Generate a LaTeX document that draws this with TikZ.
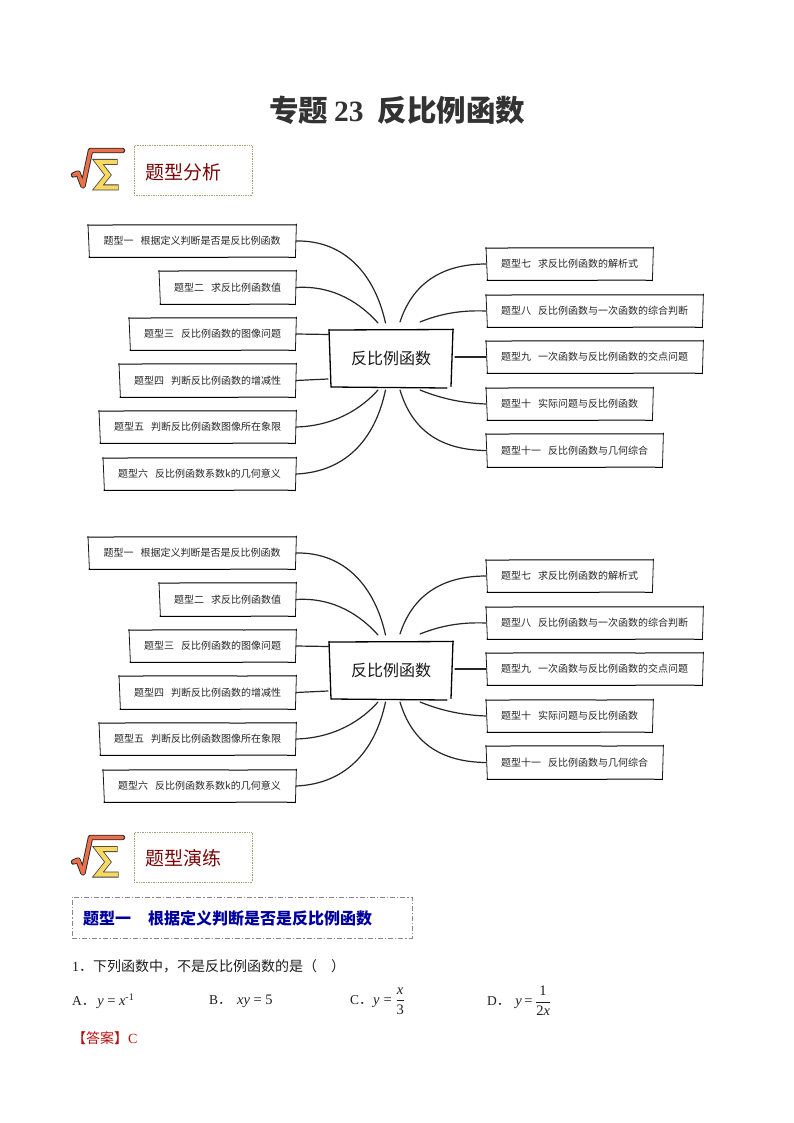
\documentclass[tikz,border=0pt]{standalone}
\usepackage{fontspec}
\setmainfont{Noto Sans CJK SC}
\newfontfamily\latinserif{Liberation Serif}
\tikzset{
  x=1pt,y=-1pt,
  boxlabel/.style={inner sep=0pt,outer sep=0pt,text=black!85,font=\fontsize{10}{12}\selectfont},
  hubtext/.style={boxlabel,text=black!90,font=\fontsize{16}{18}\selectfont},
  linkline/.style={line width=1.2pt,black!85,line cap=round},
  thinedge/.style={line width=0.8pt,black!90,line cap=round},
  thickedge/.style={line width=1pt,black,line cap=round},
  hubedge/.style={line width=1.3pt,black,line cap=round},
  headframe/.style={draw=tanframe,densely dotted,line width=0.7pt,minimum width=118pt,minimum height=49.5pt,inner sep=0pt},
  headtext/.style={text=headred,inner sep=0pt,font=\fontsize{19}{21}\selectfont},
  bodytext/.style={inner sep=0pt,text=black!88,anchor=west,font=\fontsize{14}{16}\selectfont},
  opttext/.style={inner sep=0pt,text=black!88,anchor=west,font=\fontsize{13.5}{16}\selectfont},
}
\definecolor{tanframe}{HTML}{A89F78}
\definecolor{headred}{HTML}{7A0606}
\definecolor{rootorange}{HTML}{E8704A}
\definecolor{sigmayellow}{HTML}{F8D860}
\definecolor{titlegray}{HTML}{333333}
\definecolor{sectionblue}{HTML}{0000A0}
\definecolor{sectionframe}{HTML}{8F8585}
\definecolor{answerred}{HTML}{B81010}
\newcommand{\mvar}[1]{\hbox{\fontsize{14.5}{16}\selectfont\latinserif\itshape #1}}
\newcommand{\mnum}[1]{\hbox{\fontsize{14.5}{16}\selectfont\latinserif #1}}
\newcommand{\optmark}[1]{{\latinserif #1}．}
% name, left, top, right, bottom, label
\newcommand{\sketchbox}[6]{%
  \node[boxlabel,minimum width={#4pt-#2pt},minimum height={#5pt-#3pt}] (#1) at ({(#2+#4)/2},{(#3+#5)/2}) {#6};
  \draw[thickedge] ([shift={(-0.5,0.2)}]#1.north west) .. controls +(40,-0.6) and +(-50,0.5) .. ([shift={(0.5,-0.2)}]#1.north east);
  \draw[thinedge] ([shift={(0,-0.8)}]#1.north west) -- ([shift={(1.4,0.3)}]#1.south west);
  \draw[thinedge] ([shift={(0.4,-1)}]#1.north east) -- ([shift={(-0.6,0.8)}]#1.south east);
  \draw[thickedge] ([shift={(1,0.3)}]#1.south west) .. controls +(50,0.5) and +(-40,-0.4) .. ([shift={(-0.8,0.3)}]#1.south east);
}
\newcommand{\mindmap}[2]{%
\begin{scope}[yshift=#2]
  \sketchbox{#1a}{88}{225}{296}{257}{题型一\hspace{7pt}根据定义判断是否是反比例函数}
  \sketchbox{#1b}{159}{271}{296}{304}{题型二\hspace{7pt}求反比例函数值}
  \sketchbox{#1c}{129}{318}{296}{350}{题型三\hspace{7pt}反比例函数的图像问题}
  \sketchbox{#1d}{119}{364}{296}{397}{题型四\hspace{7pt}判断反比例函数的增减性}
  \sketchbox{#1e}{99}{411}{296}{443}{题型五\hspace{7pt}判断反比例函数图像所在象限}
  \sketchbox{#1f}{103}{458}{296}{490}{题型六\hspace{7pt}反比例函数系数k的几何意义}
  \sketchbox{#1g}{486}{248}{653}{280}{题型七\hspace{7pt}求反比例函数的解析式}
  \sketchbox{#1h}{486}{295}{703}{327}{题型八\hspace{7pt}反比例函数与一次函数的综合判断}
  \sketchbox{#1i}{486}{341}{703}{373}{题型九\hspace{7pt}一次函数与反比例函数的交点问题}
  \sketchbox{#1j}{486}{388}{653}{420}{题型十\hspace{7pt}实际问题与反比例函数}
  \sketchbox{#1k}{486}{434}{663}{467}{题型十一\hspace{7pt}反比例函数与几何综合}
  \node[hubtext,minimum width=124pt,minimum height=57pt] (#1hub) at (391,358.5) {反比例函数};
  \draw[hubedge] (329,330) -- (453.5,329.5);
  \draw[hubedge] (329,329.5) -- (331,387);
  \draw[hubedge] (453,329) -- (451,386.5);
  \draw[hubedge] (331,387) -- (447,388);
  \coordinate (#1pa) at (385.5,323);
  \coordinate (#1pb) at (378,323);
  \coordinate (#1pc) at (329,334.5);
  \coordinate (#1pd) at (328,379);
  \coordinate (#1pe) at (378,390);
  \coordinate (#1pf) at (385.5,390);
  \coordinate (#1pg) at (400,322);
  \coordinate (#1ph) at (420,322);
  \coordinate (#1pi) at (455,357);
  \coordinate (#1pj) at (420,390);
  \coordinate (#1pk) at (400,390);
  \draw[linkline] (#1a.east) .. controls (345,240) and (375,275) .. (#1pa);
  \draw[linkline] (#1b.east) .. controls (335,285) and (362,305) .. (#1pb);
  \draw[linkline] (#1c.east) -- (#1pc);
  \draw[linkline] (#1d.east) -- (#1pd);
  \draw[linkline] (#1e.east) .. controls (335,426) and (362,408) .. (#1pe);
  \draw[linkline] (#1f.east) .. controls (345,472) and (375,440) .. (#1pf);
  \draw[linkline] (#1g.west) .. controls (440,264) and (412,285) .. (#1pg);
  \draw[linkline] (#1h.west) .. controls (460,310) and (440,314) .. (#1ph);
  \draw[linkline] (#1i.west) -- (#1pi);
  \draw[linkline] (#1j.west) .. controls (460,403) and (440,398) .. (#1pj);
  \draw[linkline] (#1k.west) .. controls (440,450) and (412,430) .. (#1pk);
\end{scope}}
\newcommand{\sqrticon}[1]{%
\begin{scope}[yshift=#1]
  \draw[line width=5.4pt,black!85,line cap=round,line join=round] (73.5,175) -- (78,173) -- (83,186) -- (90.5,150.5) -- (122.5,150.5);
  \draw[line width=3.6pt,rootorange,line cap=round,line join=round] (73.5,175) -- (78,173) -- (83,186) -- (90.5,150.5) -- (122.5,150.5);
  \draw[line width=6pt,black!75,line cap=butt,line join=miter] (117.5,162) -- (98,162) -- (108,175) -- (98,187.5) -- (118.5,187.5);
  \draw[line width=4.4pt,sigmayellow,line cap=butt,line join=miter] (117,162) -- (98,162) -- (108,175) -- (98,187.5) -- (118,187.5);
\end{scope}}
\begin{document}
\begin{tikzpicture}
\useasboundingbox[fill=white] (0,0) rectangle (794,1123);
\node[inner sep=0pt,text=titlegray,font=\fontsize{29.5}{32}\selectfont\bfseries] (title) at (397,110) {专题\hspace{6pt}{\latinserif 23}\hspace{14pt}反比例函数};
\sqrticon{0pt}
\node[headframe] (headA) at (193,170.3) {};
\node[headtext] (headAt) at (183,172) {题型分析};
\mindmap{m}{0pt}
\mindmap{n}{-312pt}
\sqrticon{-687pt}
\node[headframe] (headB) at (193,857.3) {};
\node[headtext] (headBt) at (183,858.5) {题型演练};
\node[draw=sectionframe,dash pattern=on 5pt off 2pt on 1.2pt off 2pt,line width=0.7pt,minimum width=340pt,minimum height=41pt,inner sep=0pt] (sect) at (242,917.5) {};
\node[inner sep=0pt,anchor=west,text=sectionblue,font=\fontsize{16}{18}\selectfont\bfseries] (sectt) at (83,918) {题型一\hspace{17pt}根据定义判断是否是反比例函数};
\node[bodytext] (q) at (72,966) {{\latinserif 1}．下列函数中，不是反比例函数的是（\hspace{14pt}）};
\node[opttext] (oa) at (72,1001) {\optmark{A}\hspace{2pt}$\mvar{y}\kern3.5pt\mnum{=}\kern3.5pt\mvar{x}^{\hbox{\fontsize{10}{10}\selectfont\latinserif -1}}$};
\node[opttext] (ob) at (209,1001) {\optmark{B}\hspace{5.5pt}$\mvar{xy}\kern3.5pt\mnum{=}\kern3.5pt\mnum{5}$};
\node[opttext] (oc) at (350,1001) {\optmark{C}\hspace{0.5pt}$\mvar{y}\kern4pt\mnum{=}\kern3.5pt\displaystyle\frac{\mvar{x}}{\mnum{3}}$};
\node[opttext] (od) at (487,1001) {\optmark{D}\hspace{5pt}$\mvar{y}\kern2.5pt\mnum{=}\kern2.5pt\displaystyle\frac{\mnum{1}}{\mnum{2}\mvar{x}}$};
\node[bodytext,text=answerred] (ans) at (72,1038) {【答案】{\latinserif C}};
\end{tikzpicture}
\end{document}
